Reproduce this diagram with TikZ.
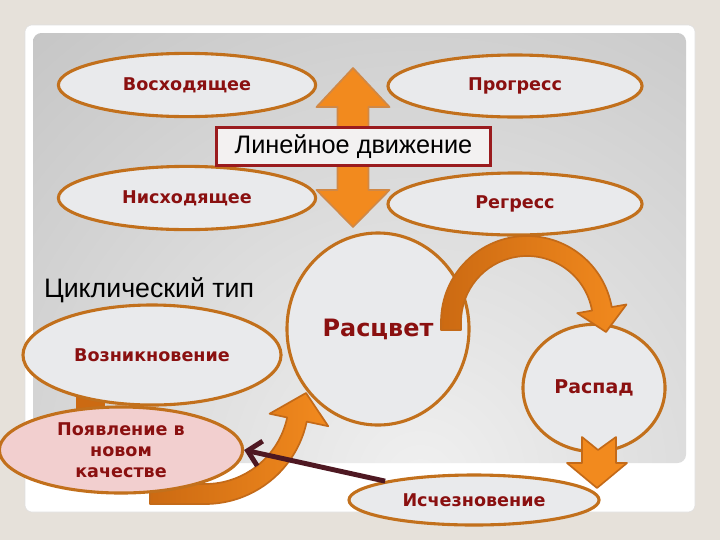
\documentclass[tikz,border=0pt]{standalone}
\usepackage{fontspec}
\setmainfont{DejaVu Sans}
\newfontfamily\headfont{Liberation Sans}
\usetikzlibrary{calc,shapes.geometric,arrows.meta}

\definecolor{bgbeige}{HTML}{E6E1DA}
\definecolor{panellight}{HTML}{F0F0F0}
\definecolor{paneldark}{HTML}{A9A9A9}
\definecolor{ovalfill}{HTML}{E9EAEC}
\definecolor{ovalline}{HTML}{C2701C}
\definecolor{lblred}{HTML}{8A1010}
\definecolor{arrfill}{HTML}{F28A1E}
\definecolor{arrdark}{HTML}{CC6A12}
\definecolor{arrline}{HTML}{C46A18}
\definecolor{linkmaroon}{HTML}{4E1822}
\definecolor{boxline}{HTML}{9A1B1E}
\definecolor{boxfill}{HTML}{F3F1F1}
\definecolor{pinkfill}{HTML}{F2CFCF}

\tikzset{
  oval/.style={ellipse, draw=ovalline, line width=2.2pt, fill=ovalfill, inner sep=0pt,
    text=lblred, font=\bfseries\fontsize{12.5}{15}\selectfont, align=center},
  bigarrow/.style={draw=arrline, line width=1.2pt, line join=round},
  linkarrow/.style={draw=linkmaroon, line width=3.5pt, -{Straight Barb[length=9pt,width=18pt]}},
  linebox/.style={draw=boxline, line width=2pt, fill=boxfill, inner sep=0pt,
    minimum width=6.83cm, minimum height=0.93cm, font=\headfont\fontsize{18}{21}\selectfont},
}

\begin{document}
\begin{tikzpicture}[x=0.025cm, y=-0.025cm]
  %%%%% START %%%%%
  \useasboundingbox (0,0) rectangle (720,540);
  \fill[bgbeige] (0,0) rectangle (720,540);
  \draw[fill=white, draw=black!12, rounded corners=5pt] (25,25) rectangle (695,512);
  \begin{scope}
    \clip[rounded corners=6pt] (33,33) rectangle (686,463);
    \shade[inner color=panellight, outer color=paneldark] (420,480) circle (1000);
  \end{scope}

  % linear movement
  \filldraw[bigarrow, fill=arrfill, draw=arrline!80] (353,68) -- (389.5,107) -- (368.5,107) -- (368.5,190)
    -- (389.5,190) -- (353,227) -- (316.5,190) -- (337.5,190) -- (337.5,107) -- (316.5,107) -- cycle;

  \node[oval, minimum width=6.43cm, minimum height=1.58cm] (rise) at (187,85) {Восходящее};
  \node[oval, minimum width=6.35cm, minimum height=1.55cm] (progress) at (515,86) {Прогресс};
  \node[oval, minimum width=6.43cm, minimum height=1.58cm] (fall) at (187,198) {Нисходящее};
  \node[oval, minimum width=6.35cm, minimum height=1.55cm] (regress) at (515,204) {Регресс};
  \node[linebox] (linear) at (353.5,146.5) {Линейное движение};

  % cyclic type
  \node[font=\headfont\fontsize{19}{22}\selectfont] (cyclic) at (149,290) {Циклический тип};

  \fill[arrdark] (76,385) rectangle (105,415);
  \node[oval, minimum width=6.45cm, minimum height=2.5cm] (origin) at (152,355) {Возникновение};
  \node[oval, minimum width=4.55cm, minimum height=4.8cm, font=\bfseries\fontsize{17}{20}\selectfont] (bloom) at (378,329) {Расцвет};
  \node[oval, minimum width=3.55cm, minimum height=3.18cm, font=\bfseries\fontsize{13.5}{16}\selectfont] (decay) at (594,388) {Распад};

  % bloom -> decay
  \coordinate (c1) at (527,322);
  \shade[bigarrow, left color=arrdark, right color=arrfill] (441,330) -- ($(c1)+(180:86)$) arc (180:350:86)
    -- ($(c1)+(350:101)$) -- (606,332) -- ($(c1)+(350:51)$) -- ($(c1)+(350:66)$) arc (350:180:66) -- (461,330) -- cycle;

  % decay -> vanishing
  \filldraw[bigarrow, fill=arrfill] (582,437) -- (598,450) -- (616,437) -- (616,463) -- (627,463)
    -- (597,488) -- (567,463) -- (582,463) -- cycle;

  % new quality -> bloom
  \coordinate (c2) at (205,400);
  \shade[bigarrow, left color=arrdark, right color=arrfill] (150,484) -- (205,484) arc (90:12:84)
    -- ($(c2)+(12:66)$) -- (306,393) -- ($(c2)+(12:126)$) -- ($(c2)+(12:104)$) arc (12:90:104) -- (150,504) -- cycle;

  \node[oval, fill=pinkfill, minimum width=6.08cm, minimum height=2.15cm] (newq) at (121,450) {Появление в\\новом\\качестве};
  \node[oval, minimum width=6.25cm, minimum height=1.25cm] (vanish) at (474,500) {Исчезновение};

  \draw[linkarrow] (vanish.168) -- (newq.east);
  %%%%% END %%%%%
\end{tikzpicture}
\end{document}
